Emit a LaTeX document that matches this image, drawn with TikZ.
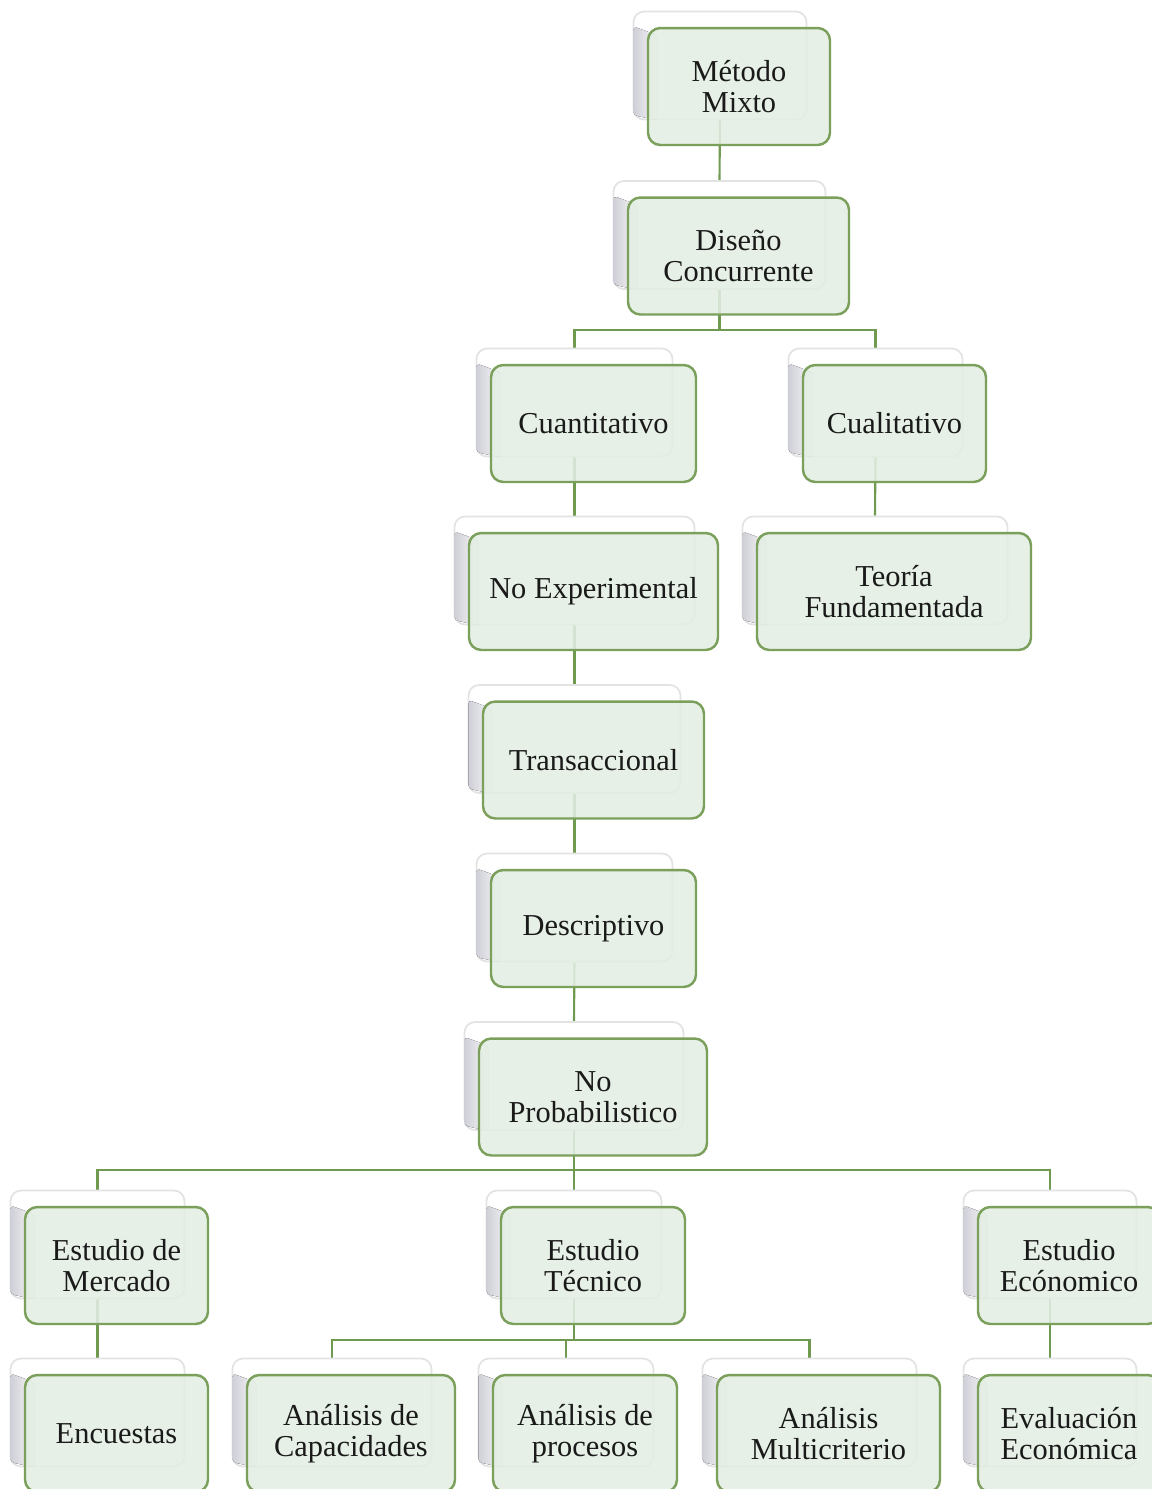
\documentclass[tikz,border=0pt]{standalone}
\usepackage{fontspec}
\setmainfont{Liberation Serif}
\pgfdeclarelayer{paper}
\pgfdeclarelayer{bg}
\pgfsetlayers{paper,bg,main}
\definecolor{frontfill}{HTML}{E3EEE3}
\definecolor{frontdraw}{HTML}{7BA05B}
\definecolor{connc}{HTML}{6F9A50}
\definecolor{txt}{HTML}{1A1A1A}
\definecolor{stripc}{HTML}{CFCFD8}
\tikzset{
  backcard/.style={draw=gray!22, fill=white, line width=1pt, rounded corners=6pt,
    minimum height=2.16cm, inner sep=0pt},
  frontbox/.style={draw=frontdraw, fill=frontfill, fill opacity=0.88, text opacity=1,
    line width=1.4pt, rounded corners=7pt, minimum height=2.34cm, inner sep=2pt,
    align=center, text=txt, font=\fontsize{17.3}{17.5}\selectfont},
  conn/.style={draw=connc, line width=1.2pt}
}
\newcommand\tb[5]{%
  \node[backcard, minimum width={(#4-9)*0.02cm}] (#1b) at (#2-19,#3-21) {};
  \fill[left color=stripc, right color=gray!6, rounded corners=2pt]
    ([xshift=0.5pt,yshift=-9pt]#1b.north west) -- ([xshift=14pt,yshift=-14pt]#1b.north west)
    -- ([xshift=14pt]#1b.south west) -- ([xshift=0.5pt,yshift=3pt]#1b.south west) -- cycle;
  \node[frontbox, minimum width={#4*0.02cm}] (#1) at (#2,#3) {#5};
}
\begin{document}
\begin{tikzpicture}[x=0.02cm, y=-0.02cm]
\clip (0,0) rectangle (1152,1489);
\begin{pgfonlayer}{paper}
\fill[white] (0,0) rectangle (1152,1489);
\end{pgfonlayer}
\coordinate (j1) at (0,330);
\coordinate (j2) at (0,1170);
\coordinate (j3) at (0,1340);

\tb{mm}{739}{86.5}{182}{Método\\Mixto}
\tb{dc}{738.5}{256}{221}{Diseño\\Concurrente}
\tb{cuan}{593.5}{423.5}{205}{Cuantitativo}
\tb{cual}{894.5}{423.5}{183}{Cualitativo}
\tb{noexp}{593.5}{591.5}{249}{No Experimental}
\tb{teo}{894}{591.5}{274}{Teoría\\Fundamentada}
\tb{trans}{593.5}{760}{221}{Transaccional}
\tb{desc}{593.5}{928.5}{205}{Descriptivo}
\tb{noprob}{593}{1097}{228}{No\\Probabilistico}
\tb{merc}{116.5}{1265.5}{183}{Estudio de\\Mercado}
\tb{tec}{593}{1265.5}{184}{Estudio\\Técnico}
\tb{eco}{1069}{1265.5}{182}{Estudio\\Ecónomico}
\tb{enc}{116.5}{1433.5}{183}{Encuestas}
\tb{cap}{351}{1433.5}{208}{Análisis de\\Capacidades}
\tb{proc}{585}{1433.5}{184}{Análisis de\\procesos}
\tb{multi}{828.5}{1433.5}{223}{Análisis\\Multicriterio}
\tb{eval}{1069}{1433.5}{182}{Evaluación\\Económica}

\begin{pgfonlayer}{bg}
\draw[conn] (mmb.south) -- (dcb.north);
\draw[conn] (dcb.south) -- (dcb.south |- j1) -| (cuanb.north);
\draw[conn] (dcb.south |- j1) -| (cualb.north);
\draw[conn] (cuanb.south) -- (noexpb.north);
\draw[conn] (cualb.south) -- (teob.north);
\draw[conn] (noexpb.south) -- (transb.north);
\draw[conn] (transb.south) -- (descb.north);
\draw[conn] (descb.south) -- (noprobb.north);
\draw[conn] (noprobb.south) -- (noprobb.south |- j2) -| (mercb.north);
\draw[conn] (noprobb.south |- j2) -| (ecob.north);
\draw[conn] (noprobb.south |- j2) -| (tecb.north);
\draw[conn] (mercb.south) -- (encb.north);
\draw[conn] (tecb.south) -- (tecb.south |- j3) -| (capb.north);
\draw[conn] (tecb.south |- j3) -| (multib.north);
\draw[conn] (tecb.south |- j3) -| (procb.north);
\draw[conn] (ecob.south) -- (evalb.north);
\end{pgfonlayer}
\end{tikzpicture}
\end{document}
